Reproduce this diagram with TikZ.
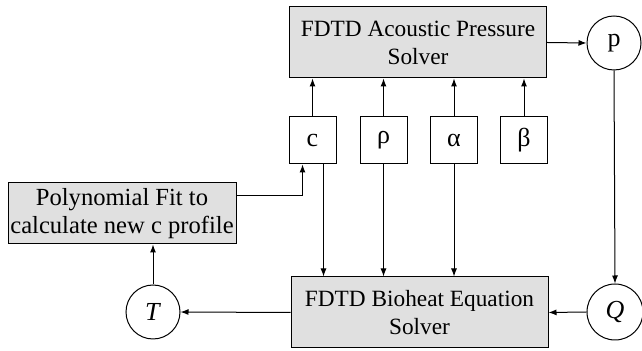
\documentclass[tikz,border=0pt]{standalone}
\usepackage{fontspec}
\setmainfont{Liberation Serif}
\usetikzlibrary{calc,arrows.meta}
\tikzset{
	solver/.style={draw, fill=black!12, align=center, inner sep=0pt, minimum width=128.5pt, minimum height=35.5pt},
	param/.style={draw, inner sep=0pt, minimum width=23.5pt, minimum height=23.5pt, font=\fontsize{13}{15}\selectfont},
	var/.style={draw, circle, inner sep=0pt, minimum size=27pt, font=\fontsize{13}{15}\selectfont},
	flow/.style={-{Latex[length=4pt,width=3pt]}}
}

\begin{document}
\begin{tikzpicture}[x=0.5pt, y=-0.5pt, line width=0.5pt, font=\fontsize{11.65}{14}\selectfont]
			%%%%% START %%%%%
			\useasboundingbox (0, 0) rectangle (642, 351);
			
			\node[solver] (acou) at (418, 42.5) {FDTD Acoustic Pressure\\Solver};
			\node[solver] (bio) at (419.5, 312.5) {FDTD Bioheat Equation\\Solver};
			\node[solver, minimum width=114pt, minimum height=30.5pt, font=\fontsize{12.3}{14}\selectfont] (poly) at (122, 213.5) {Polynomial Fit to\\calculate new c profile};
			
			\node[param] (c) at (312.5, 140.5) {c};
			\node[param] (rho) at (383.5, 140.5) {ρ};
			\node[param] (alpha) at (454, 140.5) {α};
			\node[param] (beta) at (524, 140.5) {β};
			
			\node[var] (p) at (614, 43) {p};
			\node[var, minimum size=28pt] (Q) at (615, 312) {\textit{Q}};
			\node[var] (T) at (153, 312) {\textit{T}};
			
			\coordinate (cout) at ($(c.south)+(11, 0)$);
			\coordinate (cin) at ($(c.south)+(-10, 0)$);
			\coordinate (polyout) at ($(poly.north east)+(0, 13)$);
			
			% into the acoustic solver
			\draw[flow] (c.north) -- (c.north |- acou.south);
			\draw[flow] (rho.north) -- (rho.north |- acou.south);
			\draw[flow] (alpha.north) -- (alpha.north |- acou.south);
			\draw[flow] (beta.north) -- (beta.north |- acou.south);
			
			% into the bioheat solver
			\draw[flow] (cout) -- (cout |- bio.north);
			\draw[flow] (rho.south) -- (rho.south |- bio.north);
			\draw[flow] (alpha.south) -- (alpha.south |- bio.north);
			
			% loop round
			\draw[flow] (acou.east) -- (p.west);
			\draw[flow] (p.south) -- (Q.north);
			\draw[flow] (Q.west) -- (bio.east);
			\draw[flow] (bio.west) -- (T.east);
			\draw[flow] (T.north) -- (T.north |- poly.south);
			\draw[flow] (polyout) -| (cin);
			
			%%%%% END %%%%%
		\end{tikzpicture}
\end{document}
